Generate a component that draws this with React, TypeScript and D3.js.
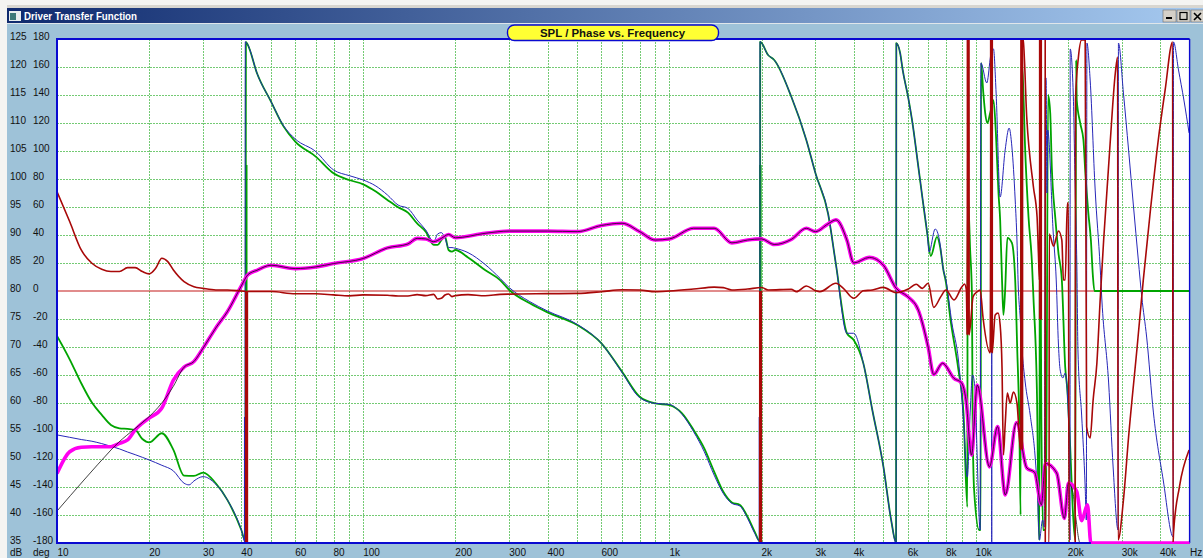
import React from "react";
import * as d3 from "d3";

const W = 1203, H = 558;
const DB_TICKS = d3.range(125, 30, -5);
const DEG_TICKS = d3.range(180, -200, -20);
const X_LABELS: [number, string][] = [[10,"10"],[20,"20"],[30,"30"],[40,"40"],[60,"60"],[80,"80"],[100,"100"],[200,"200"],[300,"300"],[400,"400"],[600,"600"],[1000,"1k"],[2000,"2k"],[3000,"3k"],[4000,"4k"],[6000,"6k"],[8000,"8k"],[10000,"10k"],[20000,"20k"],[30000,"30k"],[40000,"40k"]];
const X_GRID = [20,30,40,50,60,70,80,90,100,200,300,400,500,600,700,800,900,1000,2000,3000,4000,5000,6000,7000,8000,9000,10000,20000,30000,40000];

// SPL, dB
const splLow: [number, number][] = [[10,47.4],[11,51.3],[12,52.1],[13,52.2],[14,52.2],[15,52.2],[16,52.8],[17,53.4],[18,55.2],[19,56.4],[20,57.3],[22,59.1],[24,64.1]];
const splMid: [number, number][] = [[26,66.4],[28,67.4],[30,69.8],[33,73.4],[36,76.3],[40,80.9],[42,82.9],[45,83.7],[50,84.6],[60,84],[70,84.3],[80,84.9],[100,85.8],[120,87.7],[140,88.4],[150,89.4],[160,89.3],[170,88.8],[180,89.4],[190,90.1],[200,89.5],[250,90.3],[300,90.7],[400,90.7],[500,90.6],[600,91.7],[700,92.1],[800,90.6],[900,89.1],[1000,89.3],[1200,91.2],[1400,91.2],[1600,88.6],[1800,89.1],[2000,89.3],[2200,88.3],[2500,89.2],[2800,91.2],[3000,90.6],[3300,92],[3500,92.7],[3800,89.1],[4000,85],[4500,86],[5000,84.6],[5500,80.5],[6000,79],[6500,76.6],[7000,70],[7300,65.1],[7800,67.1],[8500,64.4],[9000,63.6],[9300,60.6],[9700,50.7],[10130,63.2],[11100,48.6],[11800,55.8],[12500,43.6],[13600,56.5],[14700,48.4],[15600,47.6],[16400,41.8],[16900,49.2],[18400,47.5],[19500,39.4],[20100,45.7]];
const splHigh: [number, number][] = [[21400,44.2],[22200,39],[23200,41.8],[23800,35],[50000,35]];
const blackLow: [number, number][] = [[10,40.7],[15,51.6],[24,63]];
const blackHigh: [number, number][] = [[20800,44],[21200,40],[21950,35],[24000,35]];

// phase, degrees
const greenPhase: [number, number][] = [[10,-32.1],[11,-48.8],[12,-65.9],[13,-79.7],[14,-88.5],[15,-95.7],[16,-98.1],[17,-98.5],[18,-99.2],[19,-105.7],[20,-108.1],[22,-101.6],[24,-113.5],[26,-131.9],[28,-132.1],[30,-129.7],[33,-137.3],[36,-149.2],[40,-170.7],[41.3,-179],
[41.4,178],[42,175.8],[45,155.5],[50,135.3],[55,117.4],[60,106.7],[70,96],[80,84.1],[90,79.3],[100,76.2],[110,71],[120,65],[130,59.8],[140,56],[150,48.3],[160,42.4],[170,32.9],[175,32.9],[180,36.4],[185,38.8],[190,29.3],[195,28.1],[200,29.3],[220,24],[250,15],[280,7.8],[300,0.7],[350,-8.8],[400,-15.3],[500,-24.3],[600,-37.4],[700,-57.6],[800,-75.5],[900,-80.3],[1000,-81.5],[1100,-87.4],[1200,-99.3],[1300,-112.4],[1400,-129],[1500,-143.4],[1600,-151],[1700,-152.9],[1800,-161.2],[1900,-172],[1978,-179],
[1980,178],[2100,168.6],[2200,165],[2500,138.9],[2800,107.9],[3000,84.1],[3300,55],[3500,18.8],[3800,-30.2],[4000,-35],[4300,-51.7],[4600,-85],[5000,-125.5],[5300,-163.6],[5500,-179.8],
[5510,177],[5670,170],[5780,157.9],[6020,138.6],[6250,117.1],[6440,95.7],[6700,67.1],[6950,41.4],[7140,25],[7480,38.6],[7660,31.4],[7850,15],[8000,6.4],[8260,-18.6],[8790,-56.4],[9130,-87.1],[9400,-154.3],[9420,72.1],[9600,29.3],[9730,-2.9],[9780,-92.1],[9890,-142.1],[10270,-170.7],[10390,-170.7],[10420,162.9],[10600,141.4],[10750,127.1],[10930,120],[11160,127.1],[11440,136.4],[11650,112.9],[11880,70],[12030,50.7],[12200,7.9],[12330,-17.1],[12490,0.7],[12700,37.9],[13140,34.3],[13470,7.9],[13680,-42.1],[13890,-92.1],[14030,-160],[14100,162.9],[14250,154.3],[14520,100.7],[14890,52.9],[15280,20],[15450,-4.3],[15880,-77.9],[16060,-161.4],[16160,-177.9],[16220,104.3],[16400,-92.1],[16620,-170.7],[16970,-170.7],[17250,140],[17530,127.1],[17740,88.6],[18200,52.9],[18650,27.1],[19130,7.9],[19620,-54.3],[19940,-70.7],[20370,-111.4],[20800,-158.6],[21150,-177.9],[21300,165],[21400,136.4],[21960,120],[22500,107.9],[22800,86.4],[23350,55.7],[23800,36.4],[24150,11.4],[24450,0],[50000,0]];

const bluePhase: [number, number][] = [[10,-102.8],[11,-104.5],[12,-106.1],[13,-107.3],[14,-109],[15,-110.9],[16,-112.8],[17,-115],[18,-116.9],[19,-118.8],[20,-120.7],[22,-124.5],[24,-128.5],[26,-137.3],[27,-138.5],[28,-135.7],[30,-132.6],[33,-138],[36,-149.2],[40,-170.7],[41.1,-179],
[41.2,178],[42,175.8],[45,155.5],[50,135.3],[55,117.9],[60,108.6],[70,99.6],[80,86.5],[90,82.4],[100,79.3],[110,75],[120,68.6],[130,61.4],[140,59],[150,50.7],[160,43.6],[170,35.2],[175,40.7],[180,41.7],[185,37.6],[190,31],[195,31],[200,30.5],[220,27.4],[250,19],[280,9],[300,2.4],[350,-7.6],[400,-14.3],[500,-23.8],[600,-37.4],[700,-58.1],[800,-76.2],[900,-80.3],[1000,-81],[1100,-88.1],[1200,-100.5],[1300,-114.8],[1400,-131.5],[1500,-144.6],[1600,-151.7],[1700,-153.6],[1800,-162.4],[1900,-173.1],[1975,-179],
[1977,178],[2100,168.6],[2200,165],[2500,138.9],[2800,107.9],[3000,84.1],[3300,55],[3500,18.8],[3800,-30.2],[4000,-30.2],[4300,-51.7],[4600,-85],[5000,-125.5],[5300,-163.6],[5500,-179.8],
[5510,177],[5670,170],[5780,157.9],[6020,138.6],[6250,117.1],[6440,95.7],[6700,67.1],[6950,41.4],[7050,27.9],[7380,44.3],[7620,36.4],[7850,15],[8000,7.9],[8370,-22.9],[8790,-49.3],[9130,-92.1],[9400,-132.9],[9600,-87.1],[9770,-60],[9970,-70.7],[10100,-111.4],[10350,-170.7],[10410,162.9],[10880,148.6],[11160,165.7],[11280,172.9],[11290,-180],[11310,172.9],[11440,172.9],[11670,141.4],[12030,67.1],[12490,100.7],[12870,116.4],[13140,102.9],[13470,65],[13650,36.4],[13780,4.3],[13990,-19.3],[14170,-40.7],[14520,-65],[15080,-88.6],[15660,-119.3],[15940,-145.7],[16160,-177.9],[16550,-163.6],[16760,-168.6],[16800,-97.1],[16900,152.1],[17000,152.1],[17100,70],[17200,115],[17930,41.4],[18340,7.9],[18650,-38.6],[18890,-56.4],[19280,-62.1],[19620,-58.6],[19940,-72.9],[20260,-130],[20340,-177.9],[20370,172.9],[20840,141.4],[21150,72.1],[21420,17.1],[21600,-43.6],[22200,-88.6],[22800,-140],[23000,-163.6],[23100,177.1],[23670,150.7],[24580,72.1],[25520,17.1],[25850,-6.4],[27200,-65.7],[28130,-125.7],[29200,-170.7],[29280,177.1],[30400,141.4],[31600,100.7],[32800,60],[34000,22.1],[34900,-4.3],[36200,-32.9],[38100,-87.1],[41000,-135],[44200,-175.7],[44300,177.9],[46000,157.9],[47900,136.4],[49800,112.9]];

const redPhase: [number, number][] = [[10,71],[11,49.6],[12,29.3],[13,19.8],[14,15.5],[15,13.9],[16,13.9],[17,16.7],[18,16.7],[19,13.9],[20,12.2],[21,16.2],[22,23.4],[23,21],[24,15],[26,6.7],[28,3.1],[30,1.9],[33,0.75],[36,0.75],[40,0],[42,-0.4],[50,-0.4],[60,-2],[70,-2],[80,-2.8],[90,-3.5],[100,-2.8],[120,-3],[130,-3.6],[140,-3.6],[150,-2.6],[160,-3.3],[170,-2.4],[175,-5.7],[180,-5.2],[185,-2.9],[190,-2.1],[195,-4],[200,-3.3],[220,-2.6],[250,-3.4],[280,-2.4],[300,-2.2],[400,-1.9],[500,-1.7],[600,-0.5],[700,0.9],[800,0.7],[900,-0.5],[1000,0],[1200,1.4],[1400,2.8],[1500,2.4],[1600,0.7],[1800,1.4],[2000,2.5],[2100,0.7],[2500,1.2],[2600,-0.5],[2800,3.6],[3000,0.2],[3100,-0.5],[3500,5.5],[3700,1.9],[4000,-5.2],[4300,0.2],[4600,0.7],[5000,2.6],[5500,-1.2],[6000,1.2],[6400,4.8],[6700,1.9],[7000,5.5],[7300,-11.7],[7700,-4],[8000,0.7],[8500,-6.4],[9000,2.6],[9200,5],[9330,0.7],[9390,-31.4],[9460,180],[9520,-31.4],[9820,-3.9],[10100,-0.7],[10350,0.7],[10580,-19.3],[11160,-44.3],[11270,180],[11320,-44.3],[11590,-17.1],[11840,-15.7],[12030,-24.3],[12200,-55],[12330,-117.1],[12490,-95.7],[12700,-72.9],[12970,-80],[13290,-72.1],[13650,-80],[13990,-111.4],[14100,-113.6],[14150,180],[14300,179.3],[14690,124.3],[15450,74.3],[15880,52.9],[16040,27.1],[16160,7.9],[16290,180],[16320,-20.7],[16350,NaN],[16880,180],[16890,-180],[17380,-180],[17400,40.7],[17970,32.1],[18650,42.9],[19130,36.4],[19360,7.9],[19620,7.9],[19940,62.9],[20100,62.9],[20200,-180],[21150,-180],[21200,136.4],[21670,167.1],[22200,179.3],[22800,179.3],[23050,-97.1],[23670,-105],[24200,-78],[24900,-51.4],[25520,-6.4],[26200,36.4],[27510,105.7],[28600,155.7],[29100,167.1],[29200,-177.9],[30400,-149.3],[31600,-104.3],[33700,-40],[35300,7.9],[37160,55.7],[39400,105.7],[41600,143.6],[44000,177.9],[44150,-180],[44300,-172.9],[46300,-140],[49800,-113.6]];

const zeroLine: [number, number][] = [[10,0],[50000,0]];
// heavier stretches of the vertical phase wraps: [Hz, from deg, to deg]
const thickGreen: [number, number, number][] = [[41.5,90,0],[1982,90,0]];
const thickBlue: [number, number, number][] = [[41.1,-90,-180],[1972,-90,-180]];
const thickRed: [number, number, number][] = [[41.6,0,-180],[1985,0,-180],[9460,180,-31],[11270,180,-44],[14150,180,-113],[16290,180,-20]];

const PLOT = { l: 57, r: 1189.6, t: 39, b: 543 };
const x = d3.scaleLog().domain([10, 50000]).range([PLOT.l, PLOT.r]);
const yDb = d3.scaleLinear().domain([35, 125]).range([PLOT.b, PLOT.t]);
const yDeg = d3.scaleLinear().domain([-180, 180]).range([PLOT.b, PLOT.t]);
const curve = d3.curveMonotoneX;
const lineDb = d3.line<[number, number]>().curve(curve).x(d => x(d[0])).y(d => yDb(d[1]));
const lineDeg = d3.line<[number, number]>().curve(curve).defined(d => !Number.isNaN(d[1])).x(d => x(d[0])).y(d => yDeg(d[1]));

const BLUE = "#2626b8", GREEN = "#00a400", DARKRED = "#a80808", GRID = "#18a818", PANEL = "#9ec2d8", FONT = "'Liberation Sans', Arial, sans-serif";

function Wraps({ data, color, width }: { data: [number, number, number][]; color: string; width: number }) {
  return <g stroke={color} strokeWidth={width}>{data.map((d, i) => <line key={i} x1={x(d[0])} x2={x(d[0])} y1={yDeg(d[1])} y2={yDeg(d[2])} />)}</g>;
}

export default function App() {
  const btn = [1163, 1177, 1191];
  return (
    <svg width={W} height={H} viewBox={`0 0 ${W} ${H}`} style={{ position: "fixed", left: 0, top: 0, display: "block" }} fontFamily={FONT}>
      <defs>
        <linearGradient id="tb" x1="0" x2="1" y1="0" y2="0">
          <stop offset="0" stopColor="#0f2a6e" />
          <stop offset="1" stopColor="#a6caf0" />
        </linearGradient>
        <clipPath id="plot"><rect x={PLOT.l} y={PLOT.t} width={PLOT.r - PLOT.l} height={PLOT.b - PLOT.t} /></clipPath>
      </defs>
      <rect width={W} height={H} fill={PANEL} />
      <rect width={W} height={8} fill="#f4f4f2" />
      <rect y={5} width={W} height={3} fill="#d8d6d0" />
      <rect width={7} height={H} fill="#f4f4f2" />
      <rect x={7} y={8} width={W - 7} height={15} fill="url(#tb)" />
      <rect x={7} y={23} width={W - 7} height={1} fill="#dfe6ea" />
      <rect x={9} y={11} width={12} height={10} fill="#e8eeee" />
      <rect x={10} y={13} width={6} height={7} fill="#3d7a78" />
      <text x={24} y={19.5} fill="#fff" fontSize={10.5} fontWeight="bold" textLength={113} lengthAdjust="spacingAndGlyphs">Driver Transfer Function</text>
      {btn.map((bx, i) => (
        <g key={i}>
          <rect x={bx} y={10} width={13} height={12} fill="#d4d0c8" stroke="#6e6e6e" strokeWidth={0.6} />
          {i === 0 && <rect x={bx + 3} y={17} width={6} height={2} fill="#000" />}
          {i === 1 && <rect x={bx + 3} y={12.5} width={7} height={7} fill="none" stroke="#000" strokeWidth={1.2} />}
          {i === 2 && <path d={`M${bx + 3} 13L${bx + 10} 20M${bx + 10} 13L${bx + 3} 20`} stroke="#000" strokeWidth={1.6} />}
        </g>
      ))}

      <rect x={PLOT.l} y={PLOT.t} width={PLOT.r - PLOT.l} height={PLOT.b - PLOT.t} fill="#fff" />

      <g stroke={GRID} strokeWidth={1} strokeDasharray="2 1" opacity={0.6} shapeRendering="crispEdges">
        {X_GRID.map(f => <line key={f} x1={Math.round(x(f)) + 0.5} x2={Math.round(x(f)) + 0.5} y1={PLOT.t} y2={PLOT.b} />)}
        {DB_TICKS.slice(1, -1).filter(d => d !== 80).map(d => <line key={d} x1={PLOT.l} x2={PLOT.r} y1={Math.round(yDb(d)) + 0.5} y2={Math.round(yDb(d)) + 0.5} />)}
      </g>

      <g clipPath="url(#plot)" fill="none" strokeLinejoin="round">
        <path d={lineDeg(zeroLine)!} stroke="#c41a1a" strokeWidth={1.2} />
        <path d={lineDeg(greenPhase)!} stroke={GREEN} strokeWidth={1.8} />
        <Wraps data={thickGreen} color={GREEN} width={2.5} />
        <path d={lineDeg(bluePhase)!} stroke={BLUE} strokeWidth={1} />
        <Wraps data={thickBlue} color={BLUE} width={2} />
        <path d={lineDb(splLow.concat(splMid, splHigh))!} stroke="#ff00f0" strokeWidth={3.6} />
        <path d={lineDb(blackLow.concat(splMid, blackHigh))!} stroke="#111" strokeWidth={0.8} />
        <path d={lineDeg(redPhase)!} stroke={DARKRED} strokeWidth={1.6} />
        <Wraps data={thickRed} color={DARKRED} width={3.2} />
      </g>

      <g fill="none" stroke="#0a0ad0">
        <line x1={PLOT.l} x2={PLOT.l} y1={PLOT.t - 1} y2={PLOT.b + 1} strokeWidth={2} />
        <line x1={PLOT.l} x2={PLOT.r} y1={PLOT.t} y2={PLOT.t} strokeWidth={2} />
        <line x1={PLOT.l} x2={PLOT.r} y1={PLOT.b} y2={PLOT.b} strokeWidth={2} />
        <line x1={PLOT.r} x2={PLOT.r} y1={PLOT.t} y2={PLOT.b} strokeWidth={1.4} />
      </g>
      <path d={lineDb([[23800, 35], [50000, 35]])!} stroke="#ff00f0" strokeWidth={2.2} fill="none" />

      <rect x={507.5} y={25} width={211} height={15.5} rx={7} fill="#ffff33" stroke="#0a0ad0" strokeWidth={1.4} />
      <text x={612.5} y={36.5} textAnchor="middle" fontSize={11} fontWeight="bold" fill="#111" textLength={145} lengthAdjust="spacingAndGlyphs">SPL / Phase vs. Frequency</text>

      <g fontSize={10} fill="#111">
        {DB_TICKS.map(d => <text key={d} x={10} y={yDb(d) + 1}>{d}</text>)}
        {DEG_TICKS.map(d => <text key={d} x={33} y={yDeg(d) + 1}>{d}</text>)}
        <text x={10} y={556}>dB</text>
        <text x={33} y={556}>deg</text>
        {X_LABELS.map(([f, s]) => <text key={f} x={x(f) + (f === 10 ? 0.5 : 0)} y={556}>{s}</text>)}
        <text x={1190} y={556}>Hz</text>
      </g>
    </svg>
  );
}
